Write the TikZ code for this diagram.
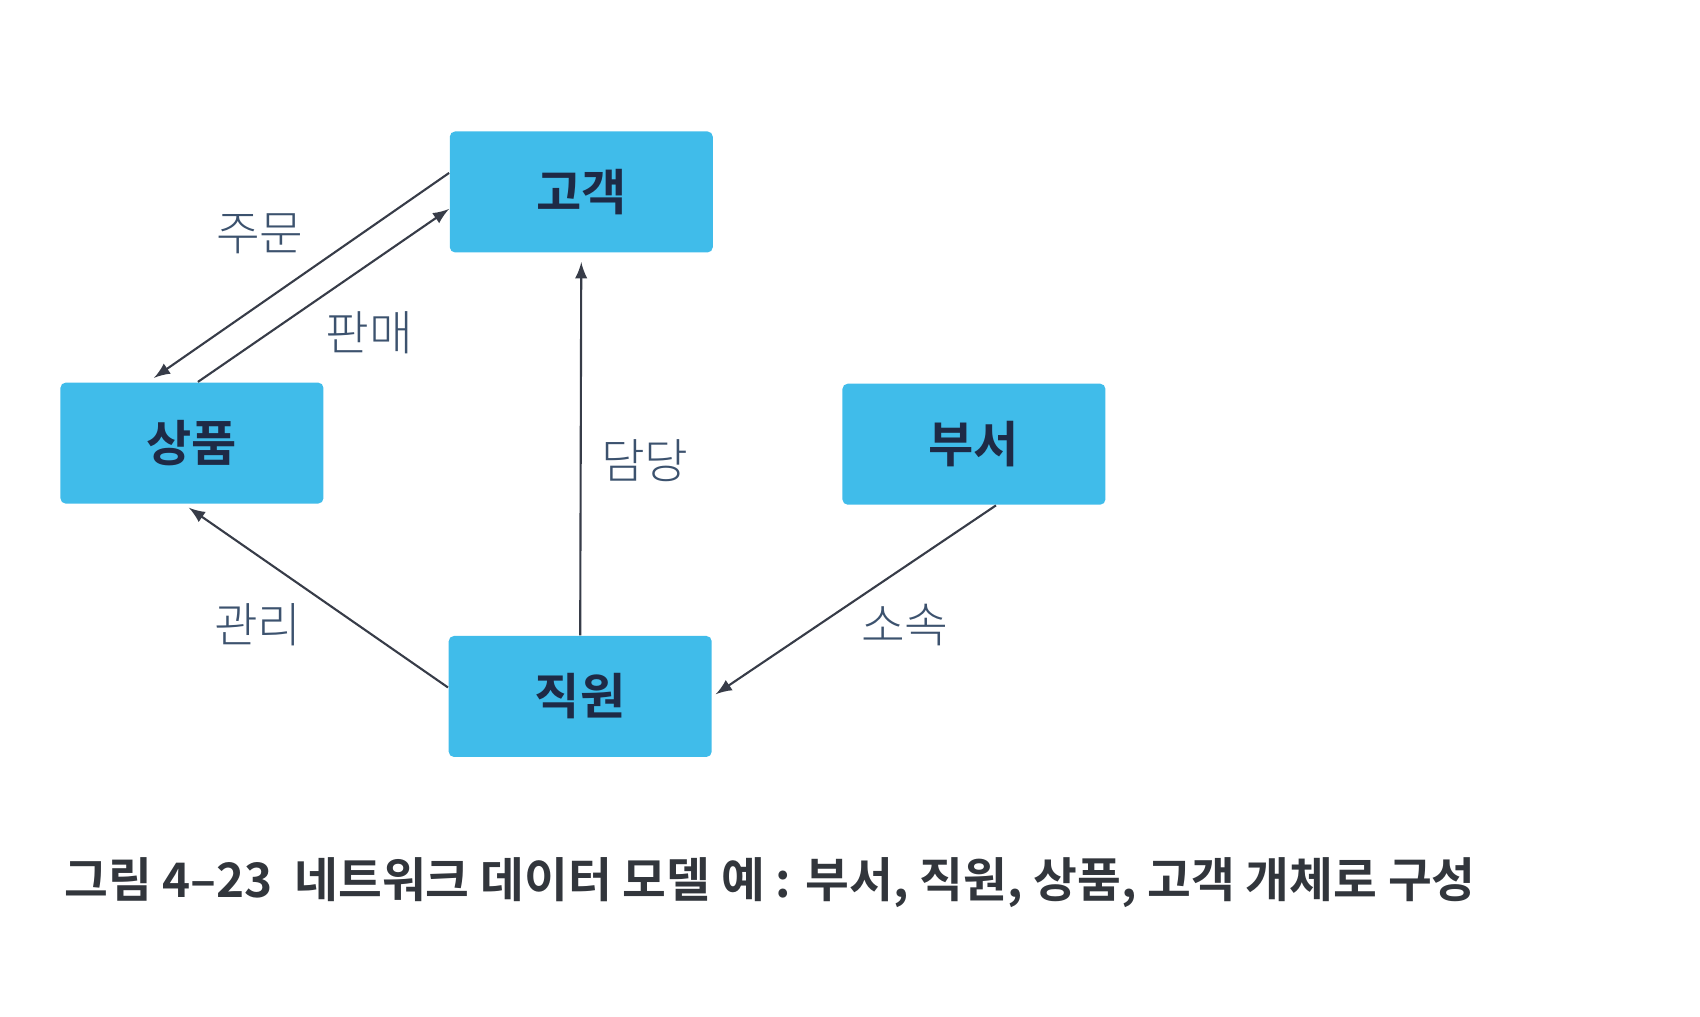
\documentclass[tikz,border=0pt]{standalone}
\usepackage{fontspec}
\setmainfont{Noto Sans CJK KR}[BoldFont={Noto Sans CJK KR Bold}]
\newfontfamily\lightfont{Noto Sans CJK KR Light}
\usepackage{tikz}

\definecolor{boxblue}{RGB}{64,188,234}
\definecolor{boxtext}{RGB}{30,42,70}
\definecolor{labeltext}{RGB}{60,82,110}
\definecolor{linegray}{RGB}{55,60,72}
\definecolor{captext}{RGB}{50,54,60}

\tikzset{
  entity/.style={fill=boxblue, rounded corners=1.5pt, minimum width=26.3mm, minimum height=12.1mm,
    text=boxtext, font=\fontsize{14}{16}\selectfont\bfseries},
  rel/.style={draw=linegray, line width=0.6pt, -latex},
  rellabel/.style={text=labeltext, font=\fontsize{13.5}{16}\selectfont\lightfont}
}

\begin{document}
\begin{tikzpicture}[x=0.10968mm, y=-0.10968mm]
\useasboundingbox (0,0) rectangle (1550,927.2);
%
\node [entity] (gogaek)  at (530,175) {고객};
\node [entity] (sangpum) at (175,404) {상품};
\node [entity] (buseo)   at (888,405) {부서};
\node [entity] (jikwon)  at (529,635) {직원};
%
\draw [rel] ([yshift=1.9mm]gogaek.west) -- ([xshift=-3.8mm, yshift=0.4mm]sangpum.north);
\draw [rel] ([xshift=0.6mm]sangpum.north) -- ([yshift=-1.7mm]gogaek.west);
\draw [rel, shorten >=0.9mm] (jikwon.north) -- (gogaek.south);
\draw [rel, shorten >=0.6mm] ([yshift=0.9mm]jikwon.west) -- ([xshift=-0.8mm]sangpum.south);
\draw [rel, shorten >=0.4mm] ([xshift=2.2mm]buseo.south) -- (jikwon.east);
%
\node [rellabel] (jumun)   at (237,213) {주문};
\node [rellabel] (panmae)  at (337,303) {판매};
\node [rellabel] (damdang) at (588,420) {담당};
\node [rellabel] (gwanri)  at (235,570) {관리};
\node [rellabel] (sosok)   at (825,570) {소속};
%
\node [anchor=west, inner sep=0pt, text=captext, font=\fontsize{13.55}{16}\selectfont\bfseries] (caption) at (58,805)
  {그림 4–23\hspace{0.45em}네트워크 데이터 모델 예 : 부서, 직원, 상품, 고객 개체로 구성};
%%%%%%%%%%%%%%%%%%%%%%%%%%%%%%%
\end{tikzpicture}
\end{document}
